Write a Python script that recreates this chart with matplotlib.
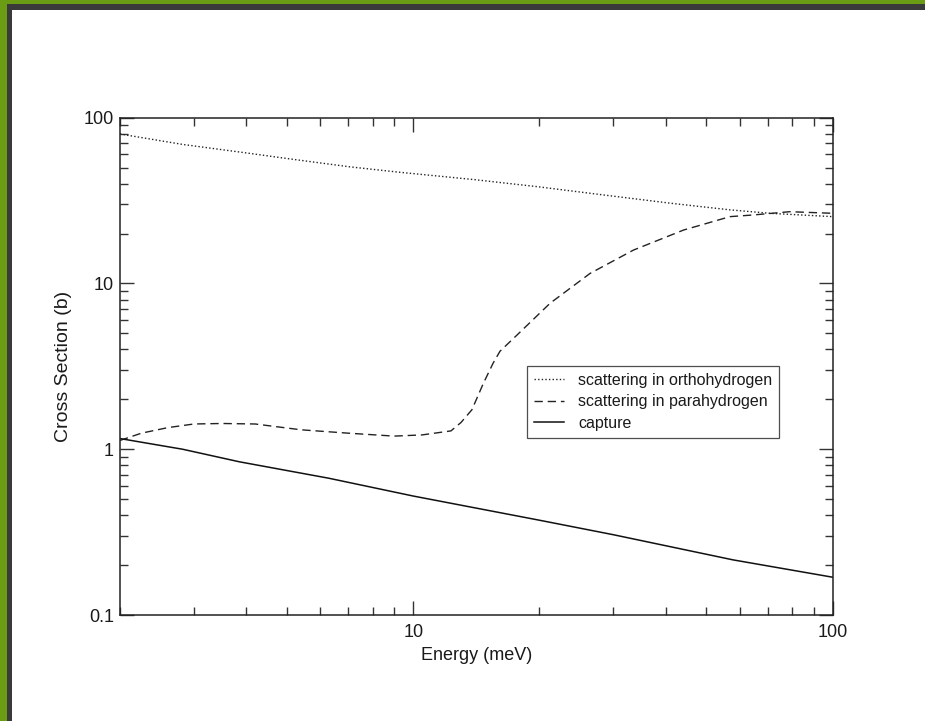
import matplotlib
matplotlib.use("Agg")
import matplotlib.pyplot as plt
from matplotlib.patches import Rectangle
from matplotlib.ticker import LogLocator, FixedLocator, FixedFormatter, NullFormatter

plt.rcParams["font.family"] = ["Liberation Sans", "DejaVu Sans"]

# scattering in orthohydrogen (dotted)
ortho_E = [2.0, 2.07, 2.82, 4.06, 5.06, 7.03, 9.25, 14.0, 19.7, 28.4, 41.0, 56.9, 70.9, 100.0]
ortho_xs = [80.0, 78.6, 69.0, 61.0, 56.5, 50.6, 46.9, 42.3, 38.4, 34.2, 30.5, 27.8, 26.5, 25.3]

# scattering in parahydrogen (dashed)
para_E = [2.0, 2.25, 2.6, 3.0, 3.5, 4.2, 5.4, 7.0, 9.0, 10.5, 12.3, 13.0, 13.8, 14.7,
          15.5, 16.1, 17.7, 21.2, 26.4, 33.5, 44.1, 56.9, 64.7, 79.0, 100.0]
para_xs = [1.13, 1.25, 1.35, 1.42, 1.43, 1.42, 1.31, 1.25, 1.20, 1.22, 1.29, 1.45, 1.73, 2.5,
           3.3, 3.9, 4.9, 7.6, 11.5, 15.9, 21.0, 25.3, 25.9, 27.1, 26.5]

# capture (solid)
capt_E = [2.0, 2.82, 3.85, 6.3, 10.0, 20.0, 30.0, 57.9, 100.0]
capt_xs = [1.16, 1.0, 0.84, 0.668, 0.522, 0.373, 0.305, 0.215, 0.169]

x_ticks = [10, 100]
x_ticklabels = ["10", "100"]
y_ticks = [0.1, 1, 10, 100]
y_ticklabels = ["0.1", "1", "10", "100"]

W, H = 925, 721
fig = plt.figure(figsize=(W / 100, H / 100), dpi=100)

# slide frame: green on top/left with a dark inner strip
green = "#6a9c14"
dark = "#3a3a3a"
fig.add_artist(Rectangle((0, 1 - 4 / H), 1, 4 / H, transform=fig.transFigure, color=green, lw=0))
fig.add_artist(Rectangle((0, 0), 7 / W, 1, transform=fig.transFigure, color=green, lw=0))
fig.add_artist(Rectangle((7 / W, 1 - 10 / H), 1, 6 / H, transform=fig.transFigure, color=dark, lw=0))
fig.add_artist(Rectangle((7 / W, 0), 5 / W, 1 - 4 / H, transform=fig.transFigure, color=dark, lw=0))

ax = fig.add_axes([120 / W, 1 - 615 / H, 712.7 / W, 497.3 / H])

ax.plot(ortho_E, ortho_xs, color="#222222", lw=1.0, linestyle=(0, (1.0, 1.6)),
        label="scattering in orthohydrogen")
ax.plot(para_E, para_xs, color="#222222", lw=1.0, linestyle=(0, (6.0, 3.5)),
        label="scattering in parahydrogen")
ax.plot(capt_E, capt_xs, color="#111111", lw=1.1, label="capture")

ax.set_xscale("log")
ax.set_yscale("log")
ax.set_xlim(2, 100)
ax.set_ylim(0.1, 100)

ax.xaxis.set_major_locator(FixedLocator(x_ticks))
ax.xaxis.set_major_formatter(FixedFormatter(x_ticklabels))
ax.xaxis.set_minor_locator(LogLocator(base=10, subs=range(2, 10)))
ax.xaxis.set_minor_formatter(NullFormatter())
ax.yaxis.set_major_locator(FixedLocator(y_ticks))
ax.yaxis.set_major_formatter(FixedFormatter(y_ticklabels))
ax.yaxis.set_minor_locator(LogLocator(base=10, subs=range(2, 10)))
ax.yaxis.set_minor_formatter(NullFormatter())

ax.tick_params(which="both", direction="in", top=True, right=True, color="#333333", width=1.0)
ax.tick_params(which="major", length=10)
ax.tick_params(which="minor", length=5.5)
ax.tick_params(axis="x", which="major", pad=6.5, labelsize=13, labelcolor="#1a1a1a")
ax.tick_params(axis="y", which="major", pad=4.5, labelsize=13, labelcolor="#1a1a1a")

for sp in ax.spines.values():
    sp.set_linewidth(1.1)
    sp.set_color("#222222")

ax.set_xlabel("Energy (meV)", fontsize=13, color="#1a1a1a", labelpad=4)
ax.set_ylabel("Cross Section (b)", fontsize=14, color="#1a1a1a", labelpad=8)

leg = ax.legend(loc="upper left", bbox_to_anchor=(0.5707, 0.5013), borderaxespad=0,
                fontsize=11.5, frameon=True, fancybox=False, edgecolor="#222222",
                handlelength=1.9, handletextpad=0.87, labelspacing=0.4, borderpad=0.45)
leg.get_frame().set_linewidth(0.9)
for t in leg.get_texts():
    t.set_color("#1a1a1a")

fig.savefig("out.png", dpi=100)
